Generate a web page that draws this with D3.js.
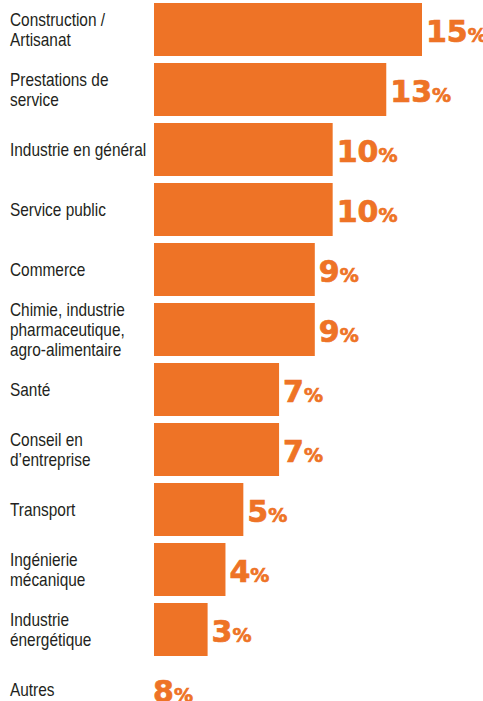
<!DOCTYPE html>
<html>
<head>
<meta charset="utf-8">
<script src="https://cdn.jsdelivr.net/npm/d3@7"></script>
<style>
  body { margin: 0; background: #fff; }
  svg { display: block; }
  .cat { font-family: "Liberation Sans", Arial, sans-serif; font-size: 18px; fill: #231f20; }
  .val { font-family: "DejaVu Sans", sans-serif; font-weight: bold; fill: #ee7326; stroke: #ee7326; stroke-width: 0.7px; }
</style>
</head>
<body>
<svg id="chart"></svg>
<script>
// Sectors (label lines) and share in %
const categories = [
  ["Construction /", "Artisanat"],
  ["Prestations de", "service"],
  ["Industrie en général"],
  ["Service public"],
  ["Commerce"],
  ["Chimie, industrie", "pharmaceutique,", "agro-alimentaire"],
  ["Santé"],
  ["Conseil en", "d\u2019entreprise"],
  ["Transport"],
  ["Ingénierie", "mécanique"],
  ["Industrie", "énergétique"],
  ["Autres"]
];
const values = [15, 13, 10, 10, 9, 9, 7, 7, 5, 4, 3, 8];
// "Autres" is shown as a number only, no bar
const hasBar = [true, true, true, true, true, true, true, true, true, true, true, false];

const width = 483;
const height = 701;
const margin = { top: 3, left: 154, labelX: 10 };
const narrow = 0.856; // no condensed font installed, squeeze the labels instead

const svg = d3.select("#chart")
  .attr("width", width)
  .attr("height", height);

const rows = categories.map((c, i) => ({ lines: c, value: values[i], bar: hasBar[i], idx: i }));

const x = d3.scaleLinear()
  .domain([0, 15])
  .range([margin.left, 422]);

// step 60, bar 53 high, first bar top at margin.top
const y = d3.scaleBand()
  .domain(rows.map(d => d.idx))
  .range([margin.top - 3.5, margin.top - 3.5 + 60 * rows.length])
  .paddingInner(7 / 60)
  .paddingOuter(7 / 120);

// bars
svg.selectAll("rect")
  .data(rows.filter(d => d.bar))
  .enter()
  .append("rect")
  .attr("x", x(0))
  .attr("y", d => y(d.idx))
  .attr("width", d => x(d.value) - x(0))
  .attr("height", y.bandwidth())
  .attr("fill", "#ee7326");

// category labels
const lineH = 20;
svg.selectAll(".cat")
  .data(rows)
  .enter()
  .append("text")
  .attr("class", "cat")
  .attr("transform", `scale(${narrow},1)`)
  .each(function(d) {
    const cy = y(d.idx) + y.bandwidth() / 2 + 7;
    const first = cy - (d.lines.length - 1) * lineH / 2;
    d3.select(this).selectAll("tspan")
      .data(d.lines)
      .enter()
      .append("tspan")
      .attr("x", margin.labelX / narrow)
      .attr("y", (l, j) => first + j * lineH)
      .text(l => l);
  });

// value labels
const vals = svg.selectAll(".val")
  .data(rows)
  .enter()
  .append("text")
  .attr("class", "val")
  .attr("x", d => (d.bar ? x(d.value) + 4 : x(0) - 1))
  .attr("y", d => y(d.idx) + y.bandwidth() / 2 + 12.5);

vals.append("tspan")
  .style("font-size", "30px")
  .text(d => d.value);
vals.append("tspan")
  .style("font-size", "19px")
  .text("%");
</script>
</body>
</html>
